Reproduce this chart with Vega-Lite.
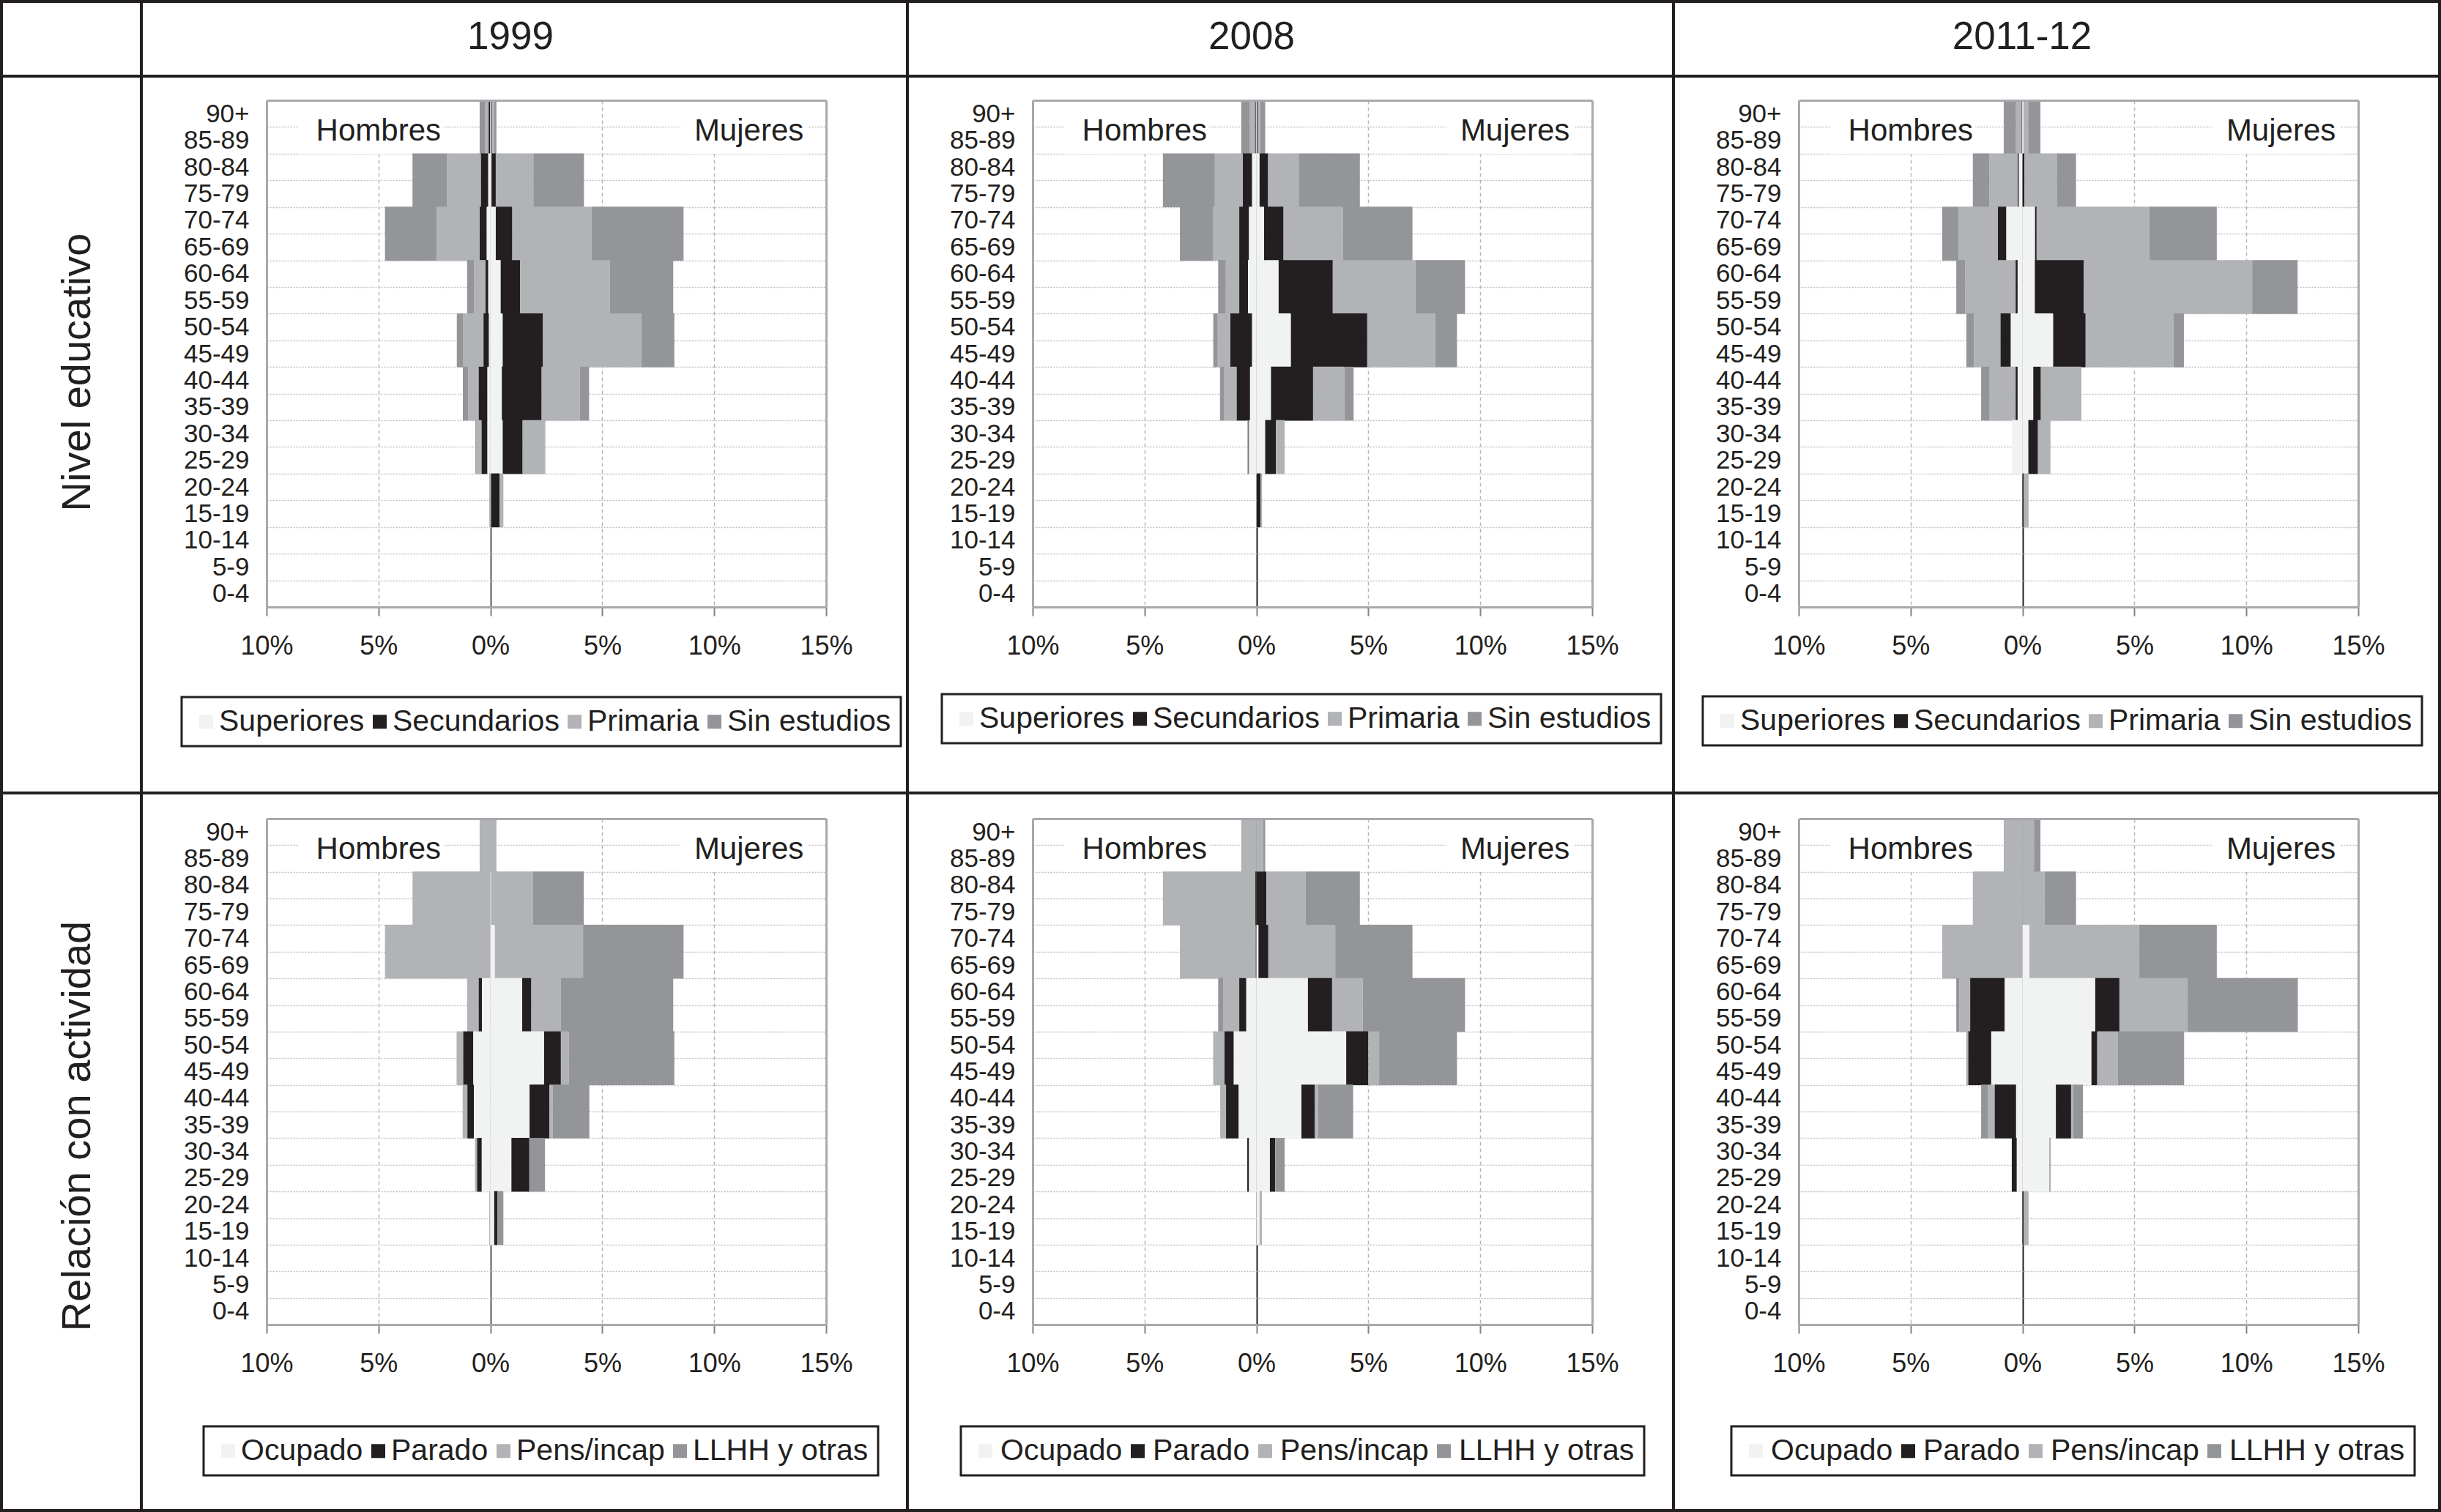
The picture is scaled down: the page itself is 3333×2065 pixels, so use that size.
{
"$schema": "https://vega.github.io/schema/vega-lite/v6.json",
"padding": 0,
"bounds": "flush",
"spacing": 0,
"columns": 4,
"config": {
  "font": "Liberation Sans",
  "view": {"stroke": "#231f20", "strokeWidth": 4},
  "concat": {"spacing": 0},
  "legend": {"strokeWidth": 3}
},
"datasets": {
"e1999": [
{"ages":["90+","85-89"],"s":"H","Superiores":-0.02,"Secundarios":-0.06,"Primaria":-0.15,"Sin estudios":-0.25},
{"ages":["90+","85-89"],"s":"M","Superiores":0.02,"Secundarios":0.03,"Primaria":0.12,"Sin estudios":0.1},
{"ages":["80-84","75-79"],"s":"H","Superiores":-0.1,"Secundarios":-0.33,"Primaria":-1.51,"Sin estudios":-1.54},
{"ages":["80-84","75-79"],"s":"M","Superiores":0.05,"Secundarios":0.19,"Primaria":1.68,"Sin estudios":2.26},
{"ages":["70-74","65-69"],"s":"H","Superiores":-0.17,"Secundarios":-0.31,"Primaria":-1.92,"Sin estudios":-2.31},
{"ages":["70-74","65-69"],"s":"M","Superiores":0.24,"Secundarios":0.74,"Primaria":3.54,"Sin estudios":4.11},
{"ages":["60-64","55-59"],"s":"H","Superiores":-0.1,"Secundarios":-0.12,"Primaria":-0.51,"Sin estudios":-0.31},
{"ages":["60-64","55-59"],"s":"M","Superiores":0.46,"Secundarios":0.87,"Primaria":4.01,"Sin estudios":2.83},
{"ages":["50-54","45-49"],"s":"H","Superiores":-0.07,"Secundarios":-0.24,"Primaria":-0.92,"Sin estudios":-0.27},
{"ages":["50-54","45-49"],"s":"M","Superiores":0.55,"Secundarios":1.8,"Primaria":4.4,"Sin estudios":1.47},
{"ages":["40-44","35-39"],"s":"H","Superiores":-0.14,"Secundarios":-0.39,"Primaria":-0.46,"Sin estudios":-0.24},
{"ages":["40-44","35-39"],"s":"M","Superiores":0.51,"Secundarios":1.78,"Primaria":1.71,"Sin estudios":0.41},
{"ages":["30-34","25-29"],"s":"H","Superiores":-0.14,"Secundarios":-0.26,"Primaria":-0.22,"Sin estudios":-0.05},
{"ages":["30-34","25-29"],"s":"M","Superiores":0.55,"Secundarios":0.89,"Primaria":0.99,"Sin estudios":0.02},
{"ages":["20-24","15-19"],"s":"H","Superiores":-0.01,"Secundarios":-0.02,"Primaria":0,"Sin estudios":0},
{"ages":["20-24","15-19"],"s":"M","Superiores":0.03,"Secundarios":0.38,"Primaria":0.17,"Sin estudios":0}
],
"e2008": [
{"ages":["90+","85-89"],"s":"H","Superiores":-0.03,"Secundarios":-0.04,"Primaria":-0.22,"Sin estudios":-0.39},
{"ages":["90+","85-89"],"s":"M","Superiores":0.02,"Secundarios":0.03,"Primaria":0.12,"Sin estudios":0.22},
{"ages":["80-84","75-79"],"s":"H","Superiores":-0.2,"Secundarios":-0.41,"Primaria":-1.25,"Sin estudios":-2.32},
{"ages":["80-84","75-79"],"s":"M","Superiores":0.14,"Secundarios":0.38,"Primaria":1.37,"Sin estudios":2.73},
{"ages":["70-74","65-69"],"s":"H","Superiores":-0.34,"Secundarios":-0.43,"Primaria":-1.18,"Sin estudios":-1.47},
{"ages":["70-74","65-69"],"s":"M","Superiores":0.34,"Secundarios":0.87,"Primaria":2.65,"Sin estudios":3.11},
{"ages":["60-64","55-59"],"s":"H","Superiores":-0.38,"Secundarios":-0.39,"Primaria":-0.6,"Sin estudios":-0.34},
{"ages":["60-64","55-59"],"s":"M","Superiores":0.99,"Secundarios":2.42,"Primaria":3.69,"Sin estudios":2.22},
{"ages":["50-54","45-49"],"s":"H","Superiores":-0.2,"Secundarios":-0.97,"Primaria":-0.56,"Sin estudios":-0.2},
{"ages":["50-54","45-49"],"s":"M","Superiores":1.54,"Secundarios":3.41,"Primaria":3.04,"Sin estudios":0.97},
{"ages":["40-44","35-39"],"s":"H","Superiores":-0.29,"Secundarios":-0.6,"Primaria":-0.55,"Sin estudios":-0.19},
{"ages":["40-44","35-39"],"s":"M","Superiores":0.65,"Secundarios":1.88,"Primaria":1.4,"Sin estudios":0.41},
{"ages":["30-34","25-29"],"s":"H","Superiores":-0.34,"Secundarios":-0.03,"Primaria":-0.02,"Sin estudios":-0.02},
{"ages":["30-34","25-29"],"s":"M","Superiores":0.39,"Secundarios":0.48,"Primaria":0.39,"Sin estudios":0},
{"ages":["20-24","15-19"],"s":"H","Superiores":0,"Secundarios":0,"Primaria":0,"Sin estudios":0},
{"ages":["20-24","15-19"],"s":"M","Superiores":0.01,"Secundarios":0.17,"Primaria":0.07,"Sin estudios":0}
],
"e2011": [
{"ages":["90+","85-89"],"s":"H","Superiores":-0.03,"Secundarios":-0.02,"Primaria":-0.24,"Sin estudios":-0.55},
{"ages":["90+","85-89"],"s":"M","Superiores":0.05,"Secundarios":0,"Primaria":0.2,"Sin estudios":0.55},
{"ages":["80-84","75-79"],"s":"H","Superiores":-0.17,"Secundarios":-0.05,"Primaria":-1.26,"Sin estudios":-0.74},
{"ages":["80-84","75-79"],"s":"M","Superiores":0,"Secundarios":0.09,"Primaria":1.44,"Sin estudios":0.86},
{"ages":["70-74","65-69"],"s":"H","Superiores":-0.73,"Secundarios":-0.38,"Primaria":-1.74,"Sin estudios":-0.74},
{"ages":["70-74","65-69"],"s":"M","Superiores":0.56,"Secundarios":0.07,"Primaria":5.03,"Sin estudios":3.02},
{"ages":["60-64","55-59"],"s":"H","Superiores":-0.22,"Secundarios":-0.09,"Primaria":-2.26,"Sin estudios":-0.39},
{"ages":["60-64","55-59"],"s":"M","Superiores":0.55,"Secundarios":2.19,"Primaria":7.52,"Sin estudios":2.03},
{"ages":["50-54","45-49"],"s":"H","Superiores":-0.53,"Secundarios":-0.46,"Primaria":-1.18,"Sin estudios":-0.34},
{"ages":["50-54","45-49"],"s":"M","Superiores":1.37,"Secundarios":1.45,"Primaria":3.93,"Sin estudios":0.46},
{"ages":["40-44","35-39"],"s":"H","Superiores":-0.22,"Secundarios":-0.09,"Primaria":-1.16,"Sin estudios":-0.38},
{"ages":["40-44","35-39"],"s":"M","Superiores":0.48,"Secundarios":0.34,"Primaria":1.81,"Sin estudios":0},
{"ages":["30-34","25-29"],"s":"H","Superiores":-0.48,"Secundarios":0,"Primaria":0,"Sin estudios":0},
{"ages":["30-34","25-29"],"s":"M","Superiores":0.26,"Secundarios":0.43,"Primaria":0.56,"Sin estudios":0},
{"ages":["20-24","15-19"],"s":"H","Superiores":0,"Secundarios":0,"Primaria":0,"Sin estudios":0},
{"ages":["20-24","15-19"],"s":"M","Superiores":0,"Secundarios":0.05,"Primaria":0.22,"Sin estudios":0}
],
"a1999": [
{"ages":["90+","85-89"],"s":"H","Ocupado":0,"Parado":0,"Pens/incap":-0.48,"LLHH y otras":0},
{"ages":["90+","85-89"],"s":"M","Ocupado":0,"Parado":0,"Pens/incap":0.27,"LLHH y otras":0},
{"ages":["80-84","75-79"],"s":"H","Ocupado":0,"Parado":0,"Pens/incap":-3.48,"LLHH y otras":0},
{"ages":["80-84","75-79"],"s":"M","Ocupado":0.04,"Parado":0,"Pens/incap":1.87,"LLHH y otras":2.26},
{"ages":["70-74","65-69"],"s":"H","Ocupado":0,"Parado":0,"Pens/incap":-4.71,"LLHH y otras":0},
{"ages":["70-74","65-69"],"s":"M","Ocupado":0.2,"Parado":0,"Pens/incap":3.94,"LLHH y otras":4.49},
{"ages":["60-64","55-59"],"s":"H","Ocupado":-0.38,"Parado":-0.15,"Pens/incap":-0.51,"LLHH y otras":0},
{"ages":["60-64","55-59"],"s":"M","Ocupado":1.42,"Parado":0.41,"Pens/incap":1.32,"LLHH y otras":5.02},
{"ages":["50-54","45-49"],"s":"H","Ocupado":-0.77,"Parado":-0.45,"Pens/incap":-0.29,"LLHH y otras":0},
{"ages":["50-54","45-49"],"s":"M","Ocupado":2.4,"Parado":0.75,"Pens/incap":0.36,"LLHH y otras":4.71},
{"ages":["40-44","35-39"],"s":"H","Ocupado":-0.74,"Parado":-0.29,"Pens/incap":-0.21,"LLHH y otras":0},
{"ages":["40-44","35-39"],"s":"M","Ocupado":1.75,"Parado":0.89,"Pens/incap":0.14,"LLHH y otras":1.64},
{"ages":["30-34","25-29"],"s":"H","Ocupado":-0.39,"Parado":-0.21,"Pens/incap":-0.09,"LLHH y otras":0},
{"ages":["30-34","25-29"],"s":"M","Ocupado":0.94,"Parado":0.8,"Pens/incap":0,"LLHH y otras":0.7},
{"ages":["20-24","15-19"],"s":"H","Ocupado":-0.02,"Parado":-0.01,"Pens/incap":0,"LLHH y otras":0},
{"ages":["20-24","15-19"],"s":"M","Ocupado":0.17,"Parado":0.14,"Pens/incap":0,"LLHH y otras":0.27}
],
"a2008": [
{"ages":["90+","85-89"],"s":"H","Ocupado":0,"Parado":0,"Pens/incap":-0.68,"LLHH y otras":0},
{"ages":["90+","85-89"],"s":"M","Ocupado":0,"Parado":0,"Pens/incap":0.3,"LLHH y otras":0.09},
{"ages":["80-84","75-79"],"s":"H","Ocupado":0,"Parado":-0.05,"Pens/incap":-4.13,"LLHH y otras":0},
{"ages":["80-84","75-79"],"s":"M","Ocupado":0,"Parado":0.44,"Pens/incap":1.76,"LLHH y otras":2.42},
{"ages":["70-74","65-69"],"s":"H","Ocupado":0,"Parado":-0.04,"Pens/incap":-3.38,"LLHH y otras":0},
{"ages":["70-74","65-69"],"s":"M","Ocupado":0.09,"Parado":0.44,"Pens/incap":2.99,"LLHH y otras":3.45},
{"ages":["60-64","55-59"],"s":"H","Ocupado":-0.46,"Parado":-0.31,"Pens/incap":-0.72,"LLHH y otras":-0.22},
{"ages":["60-64","55-59"],"s":"M","Ocupado":2.3,"Parado":1.08,"Pens/incap":1.37,"LLHH y otras":4.57},
{"ages":["50-54","45-49"],"s":"H","Ocupado":-1.02,"Parado":-0.41,"Pens/incap":-0.48,"LLHH y otras":-0.02},
{"ages":["50-54","45-49"],"s":"M","Ocupado":4.01,"Parado":0.99,"Pens/incap":0.48,"LLHH y otras":3.48},
{"ages":["40-44","35-39"],"s":"H","Ocupado":-0.8,"Parado":-0.56,"Pens/incap":-0.26,"LLHH y otras":0},
{"ages":["40-44","35-39"],"s":"M","Ocupado":2.01,"Parado":0.6,"Pens/incap":0.14,"LLHH y otras":1.57},
{"ages":["30-34","25-29"],"s":"H","Ocupado":-0.34,"Parado":-0.07,"Pens/incap":0,"LLHH y otras":0},
{"ages":["30-34","25-29"],"s":"M","Ocupado":0.6,"Parado":0.24,"Pens/incap":0.01,"LLHH y otras":0.41},
{"ages":["20-24","15-19"],"s":"H","Ocupado":0,"Parado":0,"Pens/incap":0,"LLHH y otras":0},
{"ages":["20-24","15-19"],"s":"M","Ocupado":0.14,"Parado":0,"Pens/incap":0.1,"LLHH y otras":0}
],
"a2011": [
{"ages":["90+","85-89"],"s":"H","Ocupado":0,"Parado":0,"Pens/incap":-0.84,"LLHH y otras":0},
{"ages":["90+","85-89"],"s":"M","Ocupado":0,"Parado":0,"Pens/incap":0.51,"LLHH y otras":0.29},
{"ages":["80-84","75-79"],"s":"H","Ocupado":0,"Parado":0,"Pens/incap":-2.22,"LLHH y otras":0},
{"ages":["80-84","75-79"],"s":"M","Ocupado":0,"Parado":0,"Pens/incap":0.99,"LLHH y otras":1.4},
{"ages":["70-74","65-69"],"s":"H","Ocupado":0,"Parado":0,"Pens/incap":-3.59,"LLHH y otras":0},
{"ages":["70-74","65-69"],"s":"M","Ocupado":0.31,"Parado":0,"Pens/incap":4.9,"LLHH y otras":3.47},
{"ages":["60-64","55-59"],"s":"H","Ocupado":-0.8,"Parado":-1.54,"Pens/incap":-0.48,"LLHH y otras":-0.14},
{"ages":["60-64","55-59"],"s":"M","Ocupado":3.25,"Parado":1.08,"Pens/incap":3.03,"LLHH y otras":4.94},
{"ages":["50-54","45-49"],"s":"H","Ocupado":-1.4,"Parado":-1.03,"Pens/incap":-0.05,"LLHH y otras":-0.03},
{"ages":["50-54","45-49"],"s":"M","Ocupado":3.08,"Parado":0.26,"Pens/incap":0.91,"LLHH y otras":2.97},
{"ages":["40-44","35-39"],"s":"H","Ocupado":-0.29,"Parado":-0.96,"Pens/incap":-0.29,"LLHH y otras":-0.31},
{"ages":["40-44","35-39"],"s":"M","Ocupado":1.49,"Parado":0.68,"Pens/incap":0.09,"LLHH y otras":0.44},
{"ages":["30-34","25-29"],"s":"H","Ocupado":-0.26,"Parado":-0.22,"Pens/incap":0,"LLHH y otras":0},
{"ages":["30-34","25-29"],"s":"M","Ocupado":1.2,"Parado":0,"Pens/incap":0,"LLHH y otras":0.05},
{"ages":["20-24","15-19"],"s":"H","Ocupado":0,"Parado":0,"Pens/incap":0,"LLHH y otras":0},
{"ages":["20-24","15-19"],"s":"M","Ocupado":0,"Parado":0.05,"Pens/incap":0.22,"LLHH y otras":0}
]
},
"resolve": {"scale": {"color": "independent"}, "legend": {"color": "independent"}},
"concat": [
  {"width": 191, "height": 102, "view": {"stroke": "#231f20", "strokeWidth": 4}, "data": {"values": [{}]}, "mark": {"type": "text", "text": " "}, "encoding": {}},
  {"width": 1046, "height": 102, "view": {"stroke": "#231f20", "strokeWidth": 4}, "data": {"values": [{}]}, "mark": {"type": "text", "text": "1999", "fontSize": 53, "color": "#231f20", "dx": -19, "dy": -2}, "encoding": {}},
  {"width": 1046, "height": 102, "view": {"stroke": "#231f20", "strokeWidth": 4}, "data": {"values": [{}]}, "mark": {"type": "text", "text": "2008", "fontSize": 53, "color": "#231f20", "dx": -53, "dy": -2}, "encoding": {}},
  {"width": 1046, "height": 102, "view": {"stroke": "#231f20", "strokeWidth": 4}, "data": {"values": [{}]}, "mark": {"type": "text", "text": "2011-12", "fontSize": 53, "color": "#231f20", "dx": -47, "dy": -2}, "encoding": {}},

  {"width": 191, "height": 979, "view": {"stroke": "#231f20", "strokeWidth": 4}, "data": {"values": [{}]}, "mark": {"type": "text", "text": "Nivel educativo", "angle": 270, "fontSize": 56, "color": "#231f20", "dx": 85, "dy": 8}, "encoding": {}},
  {"width": 1046, "height": 979, "data": {"name": "e1999"},
   "layer": [
    {"data": {"values": [{"age": "90+"}, {"age": "85-89"}]},
     "mark": {"type": "bar", "color": "white", "height": {"band": 1.02}},
     "encoding": {
      "x": {"datum": -8.6, "type": "quantitative", "scale": {"domain": [-10, 15], "range": [171, 935], "nice": false, "zero": false},
            "axis": {"orient": "top", "offset": -33, "values": [-10, -5, 0, 5, 10, 15], "labels": false, "ticks": false, "domain": false, "grid": true, "gridColor": {"condition": {"test": "datum.value === 0", "value": "#58595b"}, "value": "#b4b6b9"}, "gridDash": {"condition": {"test": "datum.value === 0", "value": []}, "value": [5, 4]}, "gridWidth": {"condition": {"test": "datum.value === 0", "value": 2}, "value": 1.5}, "title": null}},
      "x2": {"datum": -2.1},
      "y": {"field": "age", "type": "nominal", "scale": {"domain": ["90+","85-89","80-84","75-79","70-74","65-69","60-64","55-59","50-54","45-49","40-44","35-39","30-34","25-29","20-24","15-19","10-14","5-9","0-4"], "range": [33, 725], "paddingInner": 0, "paddingOuter": 0},
            "axis": {"orient": "right", "offset": -111, "labels": false, "ticks": false, "grid": false, "domain": true, "domainColor": "#a7a9ac", "domainWidth": 3, "zindex": 1, "title": null}}
     }},
    {"data": {"values": [{"age": "90+"}, {"age": "85-89"}]},
     "mark": {"type": "bar", "color": "white", "height": {"band": 1.02}},
     "encoding": {
      "x": {"datum": 8.5, "type": "quantitative", "scale": {"domain": [-10, 15], "range": [171, 935], "nice": false, "zero": false},
            "axis": {"orient": "top", "offset": -33, "labels": false, "ticks": false, "grid": false, "domain": true, "domainColor": "#a7a9ac", "domainWidth": 3, "zindex": 1, "title": null}},
      "x2": {"datum": 14.2},
      "y": {"field": "age", "type": "nominal", "scale": {"domain": ["90+","85-89","80-84","75-79","70-74","65-69","60-64","55-59","50-54","45-49","40-44","35-39","30-34","25-29","20-24","15-19","10-14","5-9","0-4"], "range": [33, 725], "paddingInner": 0, "paddingOuter": 0}, "axis": null}
     }},
    {"transform": [
       {"flatten": ["ages"], "as": ["age"]},
       {"fold": ["Superiores", "Secundarios", "Primaria", "Sin estudios"], "as": ["cat", "v"]},
       {"window": [{"op": "row_number", "as": "rk"}], "groupby": ["age", "s"]}
     ],
     "mark": {"type": "bar", "height": {"band": 1.02}},
     "encoding": {
      "x": {"field": "v", "type": "quantitative", "stack": "zero", "scale": {"domain": [-10, 15], "range": [171, 935], "nice": false, "zero": false},
            "axis": {"orient": "bottom", "offset": -254, "values": [-10, -5, 0, 5, 10, 15], "labelExpr": "abs(datum.value) + '%'", "grid": false, "domain": true, "domainColor": "#a7a9ac", "domainWidth": 3, "ticks": true, "tickSize": 12, "tickColor": "#808285", "tickWidth": 2, "labelFontSize": 36, "labelPadding": 24, "labelColor": "#231f20", "labelFlush": false, "labelOverlap": false, "title": null}},
      "y": {"field": "age", "type": "nominal", "scale": {"domain": ["90+","85-89","80-84","75-79","70-74","65-69","60-64","55-59","50-54","45-49","40-44","35-39","30-34","25-29","20-24","15-19","10-14","5-9","0-4"], "range": [33, 725], "paddingInner": 0, "paddingOuter": 0},
            "axis": {"orient": "left", "offset": -171, "grid": true, "tickBand": "extent", "gridColor": "#bcbec0", "gridDash": [2, 2], "gridWidth": 1.5, "domain": true, "domainColor": "#a7a9ac", "domainWidth": 3, "ticks": false, "tickSize": 0, "labelFontSize": 35, "labelPadding": 24, "labelColor": "#231f20", "labelOverlap": false, "title": null}},
      "color": {"field": "cat", "type": "nominal", "scale": {"domain": ["Superiores", "Secundarios", "Primaria", "Sin estudios"], "range": ["#f1f2f2", "#231f20", "#b1b3b6", "#939598"]},
                "legend": {"orient": "none", "legendX": 55, "legendY": 848, "direction": "horizontal", "title": null, "symbolType": "square", "symbolSize": 361, "symbolStrokeWidth": 0, "labelFontSize": 41, "labelLimit": 0, "labelOffset": -3, "columnPadding": -12, "padding": 13, "strokeColor": "#231f20", "fillColor": "white", "labelColor": "#231f20"}},
      "order": {"field": "rk", "type": "quantitative"}
     }},
    {"data": {"values": [{}]},
     "mark": {"type": "text", "text": "Hombres", "fontSize": 42, "color": "#231f20", "baseline": "alphabetic", "align": "center"},
     "encoding": {
      "x": {"datum": -5, "type": "quantitative", "scale": {"domain": [-10, 15], "range": [171, 935], "nice": false, "zero": false}, "axis": null},
      "y": {"datum": "85-89", "type": "nominal", "scale": {"domain": ["90+","85-89","80-84","75-79","70-74","65-69","60-64","55-59","50-54","45-49","40-44","35-39","30-34","25-29","20-24","15-19","10-14","5-9","0-4"], "range": [33, 725], "paddingInner": 0, "paddingOuter": 0}, "axis": null}
     }},
    {"data": {"values": [{}]},
     "mark": {"type": "text", "text": "Mujeres", "fontSize": 42, "color": "#231f20", "baseline": "alphabetic", "align": "center"},
     "encoding": {
      "x": {"datum": 11.55, "type": "quantitative", "scale": {"domain": [-10, 15], "range": [171, 935], "nice": false, "zero": false}, "axis": null},
      "y": {"datum": "85-89", "type": "nominal", "scale": {"domain": ["90+","85-89","80-84","75-79","70-74","65-69","60-64","55-59","50-54","45-49","40-44","35-39","30-34","25-29","20-24","15-19","10-14","5-9","0-4"], "range": [33, 725], "paddingInner": 0, "paddingOuter": 0}, "axis": null}
     }}
   ]},
  {"width": 1046, "height": 979, "data": {"name": "e2008"},
   "layer": [
    {"data": {"values": [{"age": "90+"}, {"age": "85-89"}]},
     "mark": {"type": "bar", "color": "white", "height": {"band": 1.02}},
     "encoding": {
      "x": {"datum": -8.6, "type": "quantitative", "scale": {"domain": [-10, 15], "range": [171, 935], "nice": false, "zero": false},
            "axis": {"orient": "top", "offset": -33, "values": [-10, -5, 0, 5, 10, 15], "labels": false, "ticks": false, "domain": false, "grid": true, "gridColor": {"condition": {"test": "datum.value === 0", "value": "#231f20"}, "value": "#b4b6b9"}, "gridDash": {"condition": {"test": "datum.value === 0", "value": []}, "value": [5, 4]}, "gridWidth": {"condition": {"test": "datum.value === 0", "value": 2}, "value": 1.5}, "title": null}},
      "x2": {"datum": -2.1},
      "y": {"field": "age", "type": "nominal", "scale": {"domain": ["90+","85-89","80-84","75-79","70-74","65-69","60-64","55-59","50-54","45-49","40-44","35-39","30-34","25-29","20-24","15-19","10-14","5-9","0-4"], "range": [33, 725], "paddingInner": 0, "paddingOuter": 0},
            "axis": {"orient": "right", "offset": -111, "labels": false, "ticks": false, "grid": false, "domain": true, "domainColor": "#a7a9ac", "domainWidth": 3, "zindex": 1, "title": null}}
     }},
    {"data": {"values": [{"age": "90+"}, {"age": "85-89"}]},
     "mark": {"type": "bar", "color": "white", "height": {"band": 1.02}},
     "encoding": {
      "x": {"datum": 8.5, "type": "quantitative", "scale": {"domain": [-10, 15], "range": [171, 935], "nice": false, "zero": false},
            "axis": {"orient": "top", "offset": -33, "labels": false, "ticks": false, "grid": false, "domain": true, "domainColor": "#a7a9ac", "domainWidth": 3, "zindex": 1, "title": null}},
      "x2": {"datum": 14.2},
      "y": {"field": "age", "type": "nominal", "scale": {"domain": ["90+","85-89","80-84","75-79","70-74","65-69","60-64","55-59","50-54","45-49","40-44","35-39","30-34","25-29","20-24","15-19","10-14","5-9","0-4"], "range": [33, 725], "paddingInner": 0, "paddingOuter": 0}, "axis": null}
     }},
    {"transform": [
       {"flatten": ["ages"], "as": ["age"]},
       {"fold": ["Superiores", "Secundarios", "Primaria", "Sin estudios"], "as": ["cat", "v"]},
       {"window": [{"op": "row_number", "as": "rk"}], "groupby": ["age", "s"]}
     ],
     "mark": {"type": "bar", "height": {"band": 1.02}},
     "encoding": {
      "x": {"field": "v", "type": "quantitative", "stack": "zero", "scale": {"domain": [-10, 15], "range": [171, 935], "nice": false, "zero": false},
            "axis": {"orient": "bottom", "offset": -254, "values": [-10, -5, 0, 5, 10, 15], "labelExpr": "abs(datum.value) + '%'", "grid": false, "domain": true, "domainColor": "#a7a9ac", "domainWidth": 3, "ticks": true, "tickSize": 12, "tickColor": "#808285", "tickWidth": 2, "labelFontSize": 36, "labelPadding": 24, "labelColor": "#231f20", "labelFlush": false, "labelOverlap": false, "title": null}},
      "y": {"field": "age", "type": "nominal", "scale": {"domain": ["90+","85-89","80-84","75-79","70-74","65-69","60-64","55-59","50-54","45-49","40-44","35-39","30-34","25-29","20-24","15-19","10-14","5-9","0-4"], "range": [33, 725], "paddingInner": 0, "paddingOuter": 0},
            "axis": {"orient": "left", "offset": -171, "grid": true, "tickBand": "extent", "gridColor": "#bcbec0", "gridDash": [2, 2], "gridWidth": 1.5, "domain": true, "domainColor": "#a7a9ac", "domainWidth": 3, "ticks": false, "tickSize": 0, "labelFontSize": 35, "labelPadding": 24, "labelColor": "#231f20", "labelOverlap": false, "title": null}},
      "color": {"field": "cat", "type": "nominal", "scale": {"domain": ["Superiores", "Secundarios", "Primaria", "Sin estudios"], "range": ["#f1f2f2", "#231f20", "#b1b3b6", "#939598"]},
                "legend": {"orient": "none", "legendX": 47, "legendY": 844, "direction": "horizontal", "title": null, "symbolType": "square", "symbolSize": 361, "symbolStrokeWidth": 0, "labelFontSize": 41, "labelLimit": 0, "labelOffset": -3, "columnPadding": -12, "padding": 13, "strokeColor": "#231f20", "fillColor": "white", "labelColor": "#231f20"}},
      "order": {"field": "rk", "type": "quantitative"}
     }},
    {"data": {"values": [{}]},
     "mark": {"type": "text", "text": "Hombres", "fontSize": 42, "color": "#231f20", "baseline": "alphabetic", "align": "center"},
     "encoding": {
      "x": {"datum": -5, "type": "quantitative", "scale": {"domain": [-10, 15], "range": [171, 935], "nice": false, "zero": false}, "axis": null},
      "y": {"datum": "85-89", "type": "nominal", "scale": {"domain": ["90+","85-89","80-84","75-79","70-74","65-69","60-64","55-59","50-54","45-49","40-44","35-39","30-34","25-29","20-24","15-19","10-14","5-9","0-4"], "range": [33, 725], "paddingInner": 0, "paddingOuter": 0}, "axis": null}
     }},
    {"data": {"values": [{}]},
     "mark": {"type": "text", "text": "Mujeres", "fontSize": 42, "color": "#231f20", "baseline": "alphabetic", "align": "center"},
     "encoding": {
      "x": {"datum": 11.55, "type": "quantitative", "scale": {"domain": [-10, 15], "range": [171, 935], "nice": false, "zero": false}, "axis": null},
      "y": {"datum": "85-89", "type": "nominal", "scale": {"domain": ["90+","85-89","80-84","75-79","70-74","65-69","60-64","55-59","50-54","45-49","40-44","35-39","30-34","25-29","20-24","15-19","10-14","5-9","0-4"], "range": [33, 725], "paddingInner": 0, "paddingOuter": 0}, "axis": null}
     }}
   ]},
  {"width": 1046, "height": 979, "data": {"name": "e2011"},
   "layer": [
    {"data": {"values": [{"age": "90+"}, {"age": "85-89"}]},
     "mark": {"type": "bar", "color": "white", "height": {"band": 1.02}},
     "encoding": {
      "x": {"datum": -8.6, "type": "quantitative", "scale": {"domain": [-10, 15], "range": [171, 935], "nice": false, "zero": false},
            "axis": {"orient": "top", "offset": -33, "values": [-10, -5, 0, 5, 10, 15], "labels": false, "ticks": false, "domain": false, "grid": true, "gridColor": {"condition": {"test": "datum.value === 0", "value": "#231f20"}, "value": "#b4b6b9"}, "gridDash": {"condition": {"test": "datum.value === 0", "value": []}, "value": [5, 4]}, "gridWidth": {"condition": {"test": "datum.value === 0", "value": 2}, "value": 1.5}, "title": null}},
      "x2": {"datum": -2.1},
      "y": {"field": "age", "type": "nominal", "scale": {"domain": ["90+","85-89","80-84","75-79","70-74","65-69","60-64","55-59","50-54","45-49","40-44","35-39","30-34","25-29","20-24","15-19","10-14","5-9","0-4"], "range": [33, 725], "paddingInner": 0, "paddingOuter": 0},
            "axis": {"orient": "right", "offset": -111, "labels": false, "ticks": false, "grid": false, "domain": true, "domainColor": "#a7a9ac", "domainWidth": 3, "zindex": 1, "title": null}}
     }},
    {"data": {"values": [{"age": "90+"}, {"age": "85-89"}]},
     "mark": {"type": "bar", "color": "white", "height": {"band": 1.02}},
     "encoding": {
      "x": {"datum": 8.5, "type": "quantitative", "scale": {"domain": [-10, 15], "range": [171, 935], "nice": false, "zero": false},
            "axis": {"orient": "top", "offset": -33, "labels": false, "ticks": false, "grid": false, "domain": true, "domainColor": "#a7a9ac", "domainWidth": 3, "zindex": 1, "title": null}},
      "x2": {"datum": 14.2},
      "y": {"field": "age", "type": "nominal", "scale": {"domain": ["90+","85-89","80-84","75-79","70-74","65-69","60-64","55-59","50-54","45-49","40-44","35-39","30-34","25-29","20-24","15-19","10-14","5-9","0-4"], "range": [33, 725], "paddingInner": 0, "paddingOuter": 0}, "axis": null}
     }},
    {"transform": [
       {"flatten": ["ages"], "as": ["age"]},
       {"fold": ["Superiores", "Secundarios", "Primaria", "Sin estudios"], "as": ["cat", "v"]},
       {"window": [{"op": "row_number", "as": "rk"}], "groupby": ["age", "s"]}
     ],
     "mark": {"type": "bar", "height": {"band": 1.02}},
     "encoding": {
      "x": {"field": "v", "type": "quantitative", "stack": "zero", "scale": {"domain": [-10, 15], "range": [171, 935], "nice": false, "zero": false},
            "axis": {"orient": "bottom", "offset": -254, "values": [-10, -5, 0, 5, 10, 15], "labelExpr": "abs(datum.value) + '%'", "grid": false, "domain": true, "domainColor": "#a7a9ac", "domainWidth": 3, "ticks": true, "tickSize": 12, "tickColor": "#808285", "tickWidth": 2, "labelFontSize": 36, "labelPadding": 24, "labelColor": "#231f20", "labelFlush": false, "labelOverlap": false, "title": null}},
      "y": {"field": "age", "type": "nominal", "scale": {"domain": ["90+","85-89","80-84","75-79","70-74","65-69","60-64","55-59","50-54","45-49","40-44","35-39","30-34","25-29","20-24","15-19","10-14","5-9","0-4"], "range": [33, 725], "paddingInner": 0, "paddingOuter": 0},
            "axis": {"orient": "left", "offset": -171, "grid": true, "tickBand": "extent", "gridColor": "#bcbec0", "gridDash": [2, 2], "gridWidth": 1.5, "domain": true, "domainColor": "#a7a9ac", "domainWidth": 3, "ticks": false, "tickSize": 0, "labelFontSize": 35, "labelPadding": 24, "labelColor": "#231f20", "labelOverlap": false, "title": null}},
      "color": {"field": "cat", "type": "nominal", "scale": {"domain": ["Superiores", "Secundarios", "Primaria", "Sin estudios"], "range": ["#f1f2f2", "#231f20", "#b1b3b6", "#939598"]},
                "legend": {"orient": "none", "legendX": 40, "legendY": 847, "direction": "horizontal", "title": null, "symbolType": "square", "symbolSize": 361, "symbolStrokeWidth": 0, "labelFontSize": 41, "labelLimit": 0, "labelOffset": -3, "columnPadding": -12, "padding": 13, "strokeColor": "#231f20", "fillColor": "white", "labelColor": "#231f20"}},
      "order": {"field": "rk", "type": "quantitative"}
     }},
    {"data": {"values": [{}]},
     "mark": {"type": "text", "text": "Hombres", "fontSize": 42, "color": "#231f20", "baseline": "alphabetic", "align": "center"},
     "encoding": {
      "x": {"datum": -5, "type": "quantitative", "scale": {"domain": [-10, 15], "range": [171, 935], "nice": false, "zero": false}, "axis": null},
      "y": {"datum": "85-89", "type": "nominal", "scale": {"domain": ["90+","85-89","80-84","75-79","70-74","65-69","60-64","55-59","50-54","45-49","40-44","35-39","30-34","25-29","20-24","15-19","10-14","5-9","0-4"], "range": [33, 725], "paddingInner": 0, "paddingOuter": 0}, "axis": null}
     }},
    {"data": {"values": [{}]},
     "mark": {"type": "text", "text": "Mujeres", "fontSize": 42, "color": "#231f20", "baseline": "alphabetic", "align": "center"},
     "encoding": {
      "x": {"datum": 11.55, "type": "quantitative", "scale": {"domain": [-10, 15], "range": [171, 935], "nice": false, "zero": false}, "axis": null},
      "y": {"datum": "85-89", "type": "nominal", "scale": {"domain": ["90+","85-89","80-84","75-79","70-74","65-69","60-64","55-59","50-54","45-49","40-44","35-39","30-34","25-29","20-24","15-19","10-14","5-9","0-4"], "range": [33, 725], "paddingInner": 0, "paddingOuter": 0}, "axis": null}
     }}
   ]},

  {"width": 191, "height": 980, "view": {"stroke": "#231f20", "strokeWidth": 4}, "data": {"values": [{}]}, "mark": {"type": "text", "text": "Relación con actividad", "angle": 270, "fontSize": 56, "color": "#231f20", "dx": 35, "dy": 8}, "encoding": {}},
  {"width": 1046, "height": 980, "data": {"name": "a1999"},
   "layer": [
    {"data": {"values": [{"age": "90+"}, {"age": "85-89"}]},
     "mark": {"type": "bar", "color": "white", "height": {"band": 1.02}},
     "encoding": {
      "x": {"datum": -8.6, "type": "quantitative", "scale": {"domain": [-10, 15], "range": [171, 935], "nice": false, "zero": false},
            "axis": {"orient": "top", "offset": -35, "values": [-10, -5, 0, 5, 10, 15], "labels": false, "ticks": false, "domain": false, "grid": true, "gridColor": {"condition": {"test": "datum.value === 0", "value": "#58595b"}, "value": "#b4b6b9"}, "gridDash": {"condition": {"test": "datum.value === 0", "value": []}, "value": [5, 4]}, "gridWidth": {"condition": {"test": "datum.value === 0", "value": 2}, "value": 1.5}, "title": null}},
      "x2": {"datum": -2.1},
      "y": {"field": "age", "type": "nominal", "scale": {"domain": ["90+","85-89","80-84","75-79","70-74","65-69","60-64","55-59","50-54","45-49","40-44","35-39","30-34","25-29","20-24","15-19","10-14","5-9","0-4"], "range": [35, 726], "paddingInner": 0, "paddingOuter": 0},
            "axis": {"orient": "right", "offset": -111, "labels": false, "ticks": false, "grid": false, "domain": true, "domainColor": "#a7a9ac", "domainWidth": 3, "zindex": 1, "title": null}}
     }},
    {"data": {"values": [{"age": "90+"}, {"age": "85-89"}]},
     "mark": {"type": "bar", "color": "white", "height": {"band": 1.02}},
     "encoding": {
      "x": {"datum": 8.5, "type": "quantitative", "scale": {"domain": [-10, 15], "range": [171, 935], "nice": false, "zero": false},
            "axis": {"orient": "top", "offset": -35, "labels": false, "ticks": false, "grid": false, "domain": true, "domainColor": "#a7a9ac", "domainWidth": 3, "zindex": 1, "title": null}},
      "x2": {"datum": 14.2},
      "y": {"field": "age", "type": "nominal", "scale": {"domain": ["90+","85-89","80-84","75-79","70-74","65-69","60-64","55-59","50-54","45-49","40-44","35-39","30-34","25-29","20-24","15-19","10-14","5-9","0-4"], "range": [35, 726], "paddingInner": 0, "paddingOuter": 0}, "axis": null}
     }},
    {"transform": [
       {"flatten": ["ages"], "as": ["age"]},
       {"fold": ["Ocupado", "Parado", "Pens/incap", "LLHH y otras"], "as": ["cat", "v"]},
       {"window": [{"op": "row_number", "as": "rk"}], "groupby": ["age", "s"]}
     ],
     "mark": {"type": "bar", "height": {"band": 1.02}},
     "encoding": {
      "x": {"field": "v", "type": "quantitative", "stack": "zero", "scale": {"domain": [-10, 15], "range": [171, 935], "nice": false, "zero": false},
            "axis": {"orient": "bottom", "offset": -254, "values": [-10, -5, 0, 5, 10, 15], "labelExpr": "abs(datum.value) + '%'", "grid": false, "domain": true, "domainColor": "#a7a9ac", "domainWidth": 3, "ticks": true, "tickSize": 12, "tickColor": "#808285", "tickWidth": 2, "labelFontSize": 36, "labelPadding": 24, "labelColor": "#231f20", "labelFlush": false, "labelOverlap": false, "title": null}},
      "y": {"field": "age", "type": "nominal", "scale": {"domain": ["90+","85-89","80-84","75-79","70-74","65-69","60-64","55-59","50-54","45-49","40-44","35-39","30-34","25-29","20-24","15-19","10-14","5-9","0-4"], "range": [35, 726], "paddingInner": 0, "paddingOuter": 0},
            "axis": {"orient": "left", "offset": -171, "grid": true, "tickBand": "extent", "gridColor": "#bcbec0", "gridDash": [2, 2], "gridWidth": 1.5, "domain": true, "domainColor": "#a7a9ac", "domainWidth": 3, "ticks": false, "tickSize": 0, "labelFontSize": 35, "labelPadding": 24, "labelColor": "#231f20", "labelOverlap": false, "title": null}},
      "color": {"field": "cat", "type": "nominal", "scale": {"domain": ["Ocupado", "Parado", "Pens/incap", "LLHH y otras"], "range": ["#f1f2f2", "#231f20", "#b1b3b6", "#939598"]},
                "legend": {"orient": "none", "legendX": 85, "legendY": 865, "direction": "horizontal", "title": null, "symbolType": "square", "symbolSize": 361, "symbolStrokeWidth": 0, "labelFontSize": 41, "labelLimit": 0, "labelOffset": -3, "columnPadding": -13, "padding": 13, "strokeColor": "#231f20", "fillColor": "white", "labelColor": "#231f20"}},
      "order": {"field": "rk", "type": "quantitative"}
     }},
    {"data": {"values": [{}]},
     "mark": {"type": "text", "text": "Hombres", "fontSize": 42, "color": "#231f20", "baseline": "alphabetic", "align": "center"},
     "encoding": {
      "x": {"datum": -5, "type": "quantitative", "scale": {"domain": [-10, 15], "range": [171, 935], "nice": false, "zero": false}, "axis": null},
      "y": {"datum": "85-89", "type": "nominal", "scale": {"domain": ["90+","85-89","80-84","75-79","70-74","65-69","60-64","55-59","50-54","45-49","40-44","35-39","30-34","25-29","20-24","15-19","10-14","5-9","0-4"], "range": [35, 726], "paddingInner": 0, "paddingOuter": 0}, "axis": null}
     }},
    {"data": {"values": [{}]},
     "mark": {"type": "text", "text": "Mujeres", "fontSize": 42, "color": "#231f20", "baseline": "alphabetic", "align": "center"},
     "encoding": {
      "x": {"datum": 11.55, "type": "quantitative", "scale": {"domain": [-10, 15], "range": [171, 935], "nice": false, "zero": false}, "axis": null},
      "y": {"datum": "85-89", "type": "nominal", "scale": {"domain": ["90+","85-89","80-84","75-79","70-74","65-69","60-64","55-59","50-54","45-49","40-44","35-39","30-34","25-29","20-24","15-19","10-14","5-9","0-4"], "range": [35, 726], "paddingInner": 0, "paddingOuter": 0}, "axis": null}
     }}
   ]},
  {"width": 1046, "height": 980, "data": {"name": "a2008"},
   "layer": [
    {"data": {"values": [{"age": "90+"}, {"age": "85-89"}]},
     "mark": {"type": "bar", "color": "white", "height": {"band": 1.02}},
     "encoding": {
      "x": {"datum": -8.6, "type": "quantitative", "scale": {"domain": [-10, 15], "range": [171, 935], "nice": false, "zero": false},
            "axis": {"orient": "top", "offset": -35, "values": [-10, -5, 0, 5, 10, 15], "labels": false, "ticks": false, "domain": false, "grid": true, "gridColor": {"condition": {"test": "datum.value === 0", "value": "#231f20"}, "value": "#b4b6b9"}, "gridDash": {"condition": {"test": "datum.value === 0", "value": []}, "value": [5, 4]}, "gridWidth": {"condition": {"test": "datum.value === 0", "value": 2}, "value": 1.5}, "title": null}},
      "x2": {"datum": -2.1},
      "y": {"field": "age", "type": "nominal", "scale": {"domain": ["90+","85-89","80-84","75-79","70-74","65-69","60-64","55-59","50-54","45-49","40-44","35-39","30-34","25-29","20-24","15-19","10-14","5-9","0-4"], "range": [35, 726], "paddingInner": 0, "paddingOuter": 0},
            "axis": {"orient": "right", "offset": -111, "labels": false, "ticks": false, "grid": false, "domain": true, "domainColor": "#a7a9ac", "domainWidth": 3, "zindex": 1, "title": null}}
     }},
    {"data": {"values": [{"age": "90+"}, {"age": "85-89"}]},
     "mark": {"type": "bar", "color": "white", "height": {"band": 1.02}},
     "encoding": {
      "x": {"datum": 8.5, "type": "quantitative", "scale": {"domain": [-10, 15], "range": [171, 935], "nice": false, "zero": false},
            "axis": {"orient": "top", "offset": -35, "labels": false, "ticks": false, "grid": false, "domain": true, "domainColor": "#a7a9ac", "domainWidth": 3, "zindex": 1, "title": null}},
      "x2": {"datum": 14.2},
      "y": {"field": "age", "type": "nominal", "scale": {"domain": ["90+","85-89","80-84","75-79","70-74","65-69","60-64","55-59","50-54","45-49","40-44","35-39","30-34","25-29","20-24","15-19","10-14","5-9","0-4"], "range": [35, 726], "paddingInner": 0, "paddingOuter": 0}, "axis": null}
     }},
    {"transform": [
       {"flatten": ["ages"], "as": ["age"]},
       {"fold": ["Ocupado", "Parado", "Pens/incap", "LLHH y otras"], "as": ["cat", "v"]},
       {"window": [{"op": "row_number", "as": "rk"}], "groupby": ["age", "s"]}
     ],
     "mark": {"type": "bar", "height": {"band": 1.02}},
     "encoding": {
      "x": {"field": "v", "type": "quantitative", "stack": "zero", "scale": {"domain": [-10, 15], "range": [171, 935], "nice": false, "zero": false},
            "axis": {"orient": "bottom", "offset": -254, "values": [-10, -5, 0, 5, 10, 15], "labelExpr": "abs(datum.value) + '%'", "grid": false, "domain": true, "domainColor": "#a7a9ac", "domainWidth": 3, "ticks": true, "tickSize": 12, "tickColor": "#808285", "tickWidth": 2, "labelFontSize": 36, "labelPadding": 24, "labelColor": "#231f20", "labelFlush": false, "labelOverlap": false, "title": null}},
      "y": {"field": "age", "type": "nominal", "scale": {"domain": ["90+","85-89","80-84","75-79","70-74","65-69","60-64","55-59","50-54","45-49","40-44","35-39","30-34","25-29","20-24","15-19","10-14","5-9","0-4"], "range": [35, 726], "paddingInner": 0, "paddingOuter": 0},
            "axis": {"orient": "left", "offset": -171, "grid": true, "tickBand": "extent", "gridColor": "#bcbec0", "gridDash": [2, 2], "gridWidth": 1.5, "domain": true, "domainColor": "#a7a9ac", "domainWidth": 3, "ticks": false, "tickSize": 0, "labelFontSize": 35, "labelPadding": 24, "labelColor": "#231f20", "labelOverlap": false, "title": null}},
      "color": {"field": "cat", "type": "nominal", "scale": {"domain": ["Ocupado", "Parado", "Pens/incap", "LLHH y otras"], "range": ["#f1f2f2", "#231f20", "#b1b3b6", "#939598"]},
                "legend": {"orient": "none", "legendX": 73, "legendY": 865, "direction": "horizontal", "title": null, "symbolType": "square", "symbolSize": 361, "symbolStrokeWidth": 0, "labelFontSize": 41, "labelLimit": 0, "labelOffset": 0, "columnPadding": -9, "padding": 13, "strokeColor": "#231f20", "fillColor": "white", "labelColor": "#231f20"}},
      "order": {"field": "rk", "type": "quantitative"}
     }},
    {"data": {"values": [{}]},
     "mark": {"type": "text", "text": "Hombres", "fontSize": 42, "color": "#231f20", "baseline": "alphabetic", "align": "center"},
     "encoding": {
      "x": {"datum": -5, "type": "quantitative", "scale": {"domain": [-10, 15], "range": [171, 935], "nice": false, "zero": false}, "axis": null},
      "y": {"datum": "85-89", "type": "nominal", "scale": {"domain": ["90+","85-89","80-84","75-79","70-74","65-69","60-64","55-59","50-54","45-49","40-44","35-39","30-34","25-29","20-24","15-19","10-14","5-9","0-4"], "range": [35, 726], "paddingInner": 0, "paddingOuter": 0}, "axis": null}
     }},
    {"data": {"values": [{}]},
     "mark": {"type": "text", "text": "Mujeres", "fontSize": 42, "color": "#231f20", "baseline": "alphabetic", "align": "center"},
     "encoding": {
      "x": {"datum": 11.55, "type": "quantitative", "scale": {"domain": [-10, 15], "range": [171, 935], "nice": false, "zero": false}, "axis": null},
      "y": {"datum": "85-89", "type": "nominal", "scale": {"domain": ["90+","85-89","80-84","75-79","70-74","65-69","60-64","55-59","50-54","45-49","40-44","35-39","30-34","25-29","20-24","15-19","10-14","5-9","0-4"], "range": [35, 726], "paddingInner": 0, "paddingOuter": 0}, "axis": null}
     }}
   ]},
  {"width": 1046, "height": 980, "data": {"name": "a2011"},
   "layer": [
    {"data": {"values": [{"age": "90+"}, {"age": "85-89"}]},
     "mark": {"type": "bar", "color": "white", "height": {"band": 1.02}},
     "encoding": {
      "x": {"datum": -8.6, "type": "quantitative", "scale": {"domain": [-10, 15], "range": [171, 935], "nice": false, "zero": false},
            "axis": {"orient": "top", "offset": -35, "values": [-10, -5, 0, 5, 10, 15], "labels": false, "ticks": false, "domain": false, "grid": true, "gridColor": {"condition": {"test": "datum.value === 0", "value": "#231f20"}, "value": "#b4b6b9"}, "gridDash": {"condition": {"test": "datum.value === 0", "value": []}, "value": [5, 4]}, "gridWidth": {"condition": {"test": "datum.value === 0", "value": 2}, "value": 1.5}, "title": null}},
      "x2": {"datum": -2.1},
      "y": {"field": "age", "type": "nominal", "scale": {"domain": ["90+","85-89","80-84","75-79","70-74","65-69","60-64","55-59","50-54","45-49","40-44","35-39","30-34","25-29","20-24","15-19","10-14","5-9","0-4"], "range": [35, 726], "paddingInner": 0, "paddingOuter": 0},
            "axis": {"orient": "right", "offset": -111, "labels": false, "ticks": false, "grid": false, "domain": true, "domainColor": "#a7a9ac", "domainWidth": 3, "zindex": 1, "title": null}}
     }},
    {"data": {"values": [{"age": "90+"}, {"age": "85-89"}]},
     "mark": {"type": "bar", "color": "white", "height": {"band": 1.02}},
     "encoding": {
      "x": {"datum": 8.5, "type": "quantitative", "scale": {"domain": [-10, 15], "range": [171, 935], "nice": false, "zero": false},
            "axis": {"orient": "top", "offset": -35, "labels": false, "ticks": false, "grid": false, "domain": true, "domainColor": "#a7a9ac", "domainWidth": 3, "zindex": 1, "title": null}},
      "x2": {"datum": 14.2},
      "y": {"field": "age", "type": "nominal", "scale": {"domain": ["90+","85-89","80-84","75-79","70-74","65-69","60-64","55-59","50-54","45-49","40-44","35-39","30-34","25-29","20-24","15-19","10-14","5-9","0-4"], "range": [35, 726], "paddingInner": 0, "paddingOuter": 0}, "axis": null}
     }},
    {"transform": [
       {"flatten": ["ages"], "as": ["age"]},
       {"fold": ["Ocupado", "Parado", "Pens/incap", "LLHH y otras"], "as": ["cat", "v"]},
       {"window": [{"op": "row_number", "as": "rk"}], "groupby": ["age", "s"]}
     ],
     "mark": {"type": "bar", "height": {"band": 1.02}},
     "encoding": {
      "x": {"field": "v", "type": "quantitative", "stack": "zero", "scale": {"domain": [-10, 15], "range": [171, 935], "nice": false, "zero": false},
            "axis": {"orient": "bottom", "offset": -254, "values": [-10, -5, 0, 5, 10, 15], "labelExpr": "abs(datum.value) + '%'", "grid": false, "domain": true, "domainColor": "#a7a9ac", "domainWidth": 3, "ticks": true, "tickSize": 12, "tickColor": "#808285", "tickWidth": 2, "labelFontSize": 36, "labelPadding": 24, "labelColor": "#231f20", "labelFlush": false, "labelOverlap": false, "title": null}},
      "y": {"field": "age", "type": "nominal", "scale": {"domain": ["90+","85-89","80-84","75-79","70-74","65-69","60-64","55-59","50-54","45-49","40-44","35-39","30-34","25-29","20-24","15-19","10-14","5-9","0-4"], "range": [35, 726], "paddingInner": 0, "paddingOuter": 0},
            "axis": {"orient": "left", "offset": -171, "grid": true, "tickBand": "extent", "gridColor": "#bcbec0", "gridDash": [2, 2], "gridWidth": 1.5, "domain": true, "domainColor": "#a7a9ac", "domainWidth": 3, "ticks": false, "tickSize": 0, "labelFontSize": 35, "labelPadding": 24, "labelColor": "#231f20", "labelOverlap": false, "title": null}},
      "color": {"field": "cat", "type": "nominal", "scale": {"domain": ["Ocupado", "Parado", "Pens/incap", "LLHH y otras"], "range": ["#f1f2f2", "#231f20", "#b1b3b6", "#939598"]},
                "legend": {"orient": "none", "legendX": 79, "legendY": 865, "direction": "horizontal", "title": null, "symbolType": "square", "symbolSize": 361, "symbolStrokeWidth": 0, "labelFontSize": 41, "labelLimit": 0, "labelOffset": 0, "columnPadding": -9, "padding": 13, "strokeColor": "#231f20", "fillColor": "white", "labelColor": "#231f20"}},
      "order": {"field": "rk", "type": "quantitative"}
     }},
    {"data": {"values": [{}]},
     "mark": {"type": "text", "text": "Hombres", "fontSize": 42, "color": "#231f20", "baseline": "alphabetic", "align": "center"},
     "encoding": {
      "x": {"datum": -5, "type": "quantitative", "scale": {"domain": [-10, 15], "range": [171, 935], "nice": false, "zero": false}, "axis": null},
      "y": {"datum": "85-89", "type": "nominal", "scale": {"domain": ["90+","85-89","80-84","75-79","70-74","65-69","60-64","55-59","50-54","45-49","40-44","35-39","30-34","25-29","20-24","15-19","10-14","5-9","0-4"], "range": [35, 726], "paddingInner": 0, "paddingOuter": 0}, "axis": null}
     }},
    {"data": {"values": [{}]},
     "mark": {"type": "text", "text": "Mujeres", "fontSize": 42, "color": "#231f20", "baseline": "alphabetic", "align": "center"},
     "encoding": {
      "x": {"datum": 11.55, "type": "quantitative", "scale": {"domain": [-10, 15], "range": [171, 935], "nice": false, "zero": false}, "axis": null},
      "y": {"datum": "85-89", "type": "nominal", "scale": {"domain": ["90+","85-89","80-84","75-79","70-74","65-69","60-64","55-59","50-54","45-49","40-44","35-39","30-34","25-29","20-24","15-19","10-14","5-9","0-4"], "range": [35, 726], "paddingInner": 0, "paddingOuter": 0}, "axis": null}
     }}
   ]}
]
}
